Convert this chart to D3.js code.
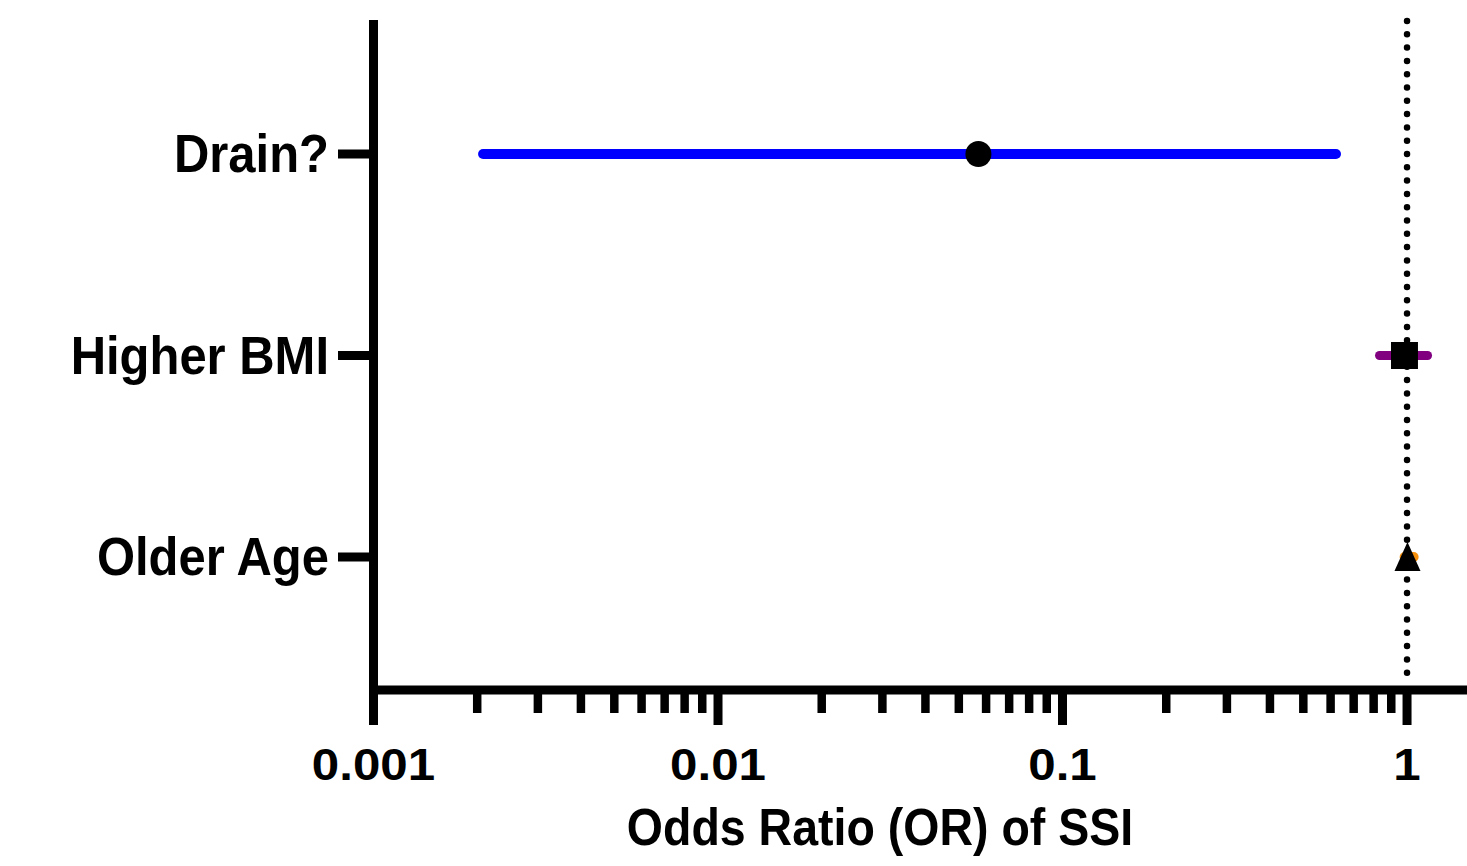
<!DOCTYPE html>
<html>
<head>
<meta charset="utf-8">
<script src="https://cdn.jsdelivr.net/npm/d3@7"></script>
<style>
  html, body { margin: 0; padding: 0; background: #fff; }
  svg { display: block; font-family: "Liberation Sans", Arial, Helvetica, sans-serif; font-weight: bold; }
</style>
</head>
<body>
<svg id="chart"></svg>
<script>
// data
const categories = ['Drain?', 'Higher BMI', 'Older Age'];
const oddsRatio = [0.057, 0.983, 1.003];
const ciLow = [0.00208, 0.832, 0.984];
const ciHigh = [0.622, 1.147, 1.045];
const markers = ['circle', 'square', 'triangle'];
const majorTicks = [0.001, 0.01, 0.1, 1];
const xTitle = 'Odds Ratio (OR) of SSI';

const barColors = ['#0000ff', '#800080', '#f5900f'];

const width = 1467;
const height = 866;
const svg = d3.select('#chart').attr('width', width).attr('height', height);

const x = d3.scaleLog().domain([0.001, 1.5]).range([373.5, 1467.7]);
const y = d3.scalePoint().domain(categories).range([154, 557]);
const axisY = 690;
const axisTop = 20;

const rows = categories.map((c, i) => ({
  cat: c, or: oddsRatio[i], lo: ciLow[i], hi: ciHigh[i], marker: markers[i], color: barColors[i]
}));

// reference line at OR = 1
svg.append('line')
  .attr('x1', x(1)).attr('x2', x(1))
  .attr('y1', axisTop + 1).attr('y2', axisY - 4)
  .attr('stroke', '#000')
  .attr('stroke-width', 6.5)
  .attr('stroke-linecap', 'round')
  .attr('stroke-dasharray', '0 13.3');

// x axis: line + major/minor ticks
const minor = x.ticks().filter(t => !majorTicks.includes(t) && t <= 1.0001);
const gx = svg.append('g');
gx.append('line')
  .attr('x1', x(0.001) - 4.5).attr('x2', width + 5)
  .attr('y1', axisY).attr('y2', axisY)
  .attr('stroke', '#000').attr('stroke-width', 9);
gx.selectAll('.minor')
  .data(minor)
  .join('line')
  .attr('x1', d => x(d)).attr('x2', d => x(d))
  .attr('y1', axisY).attr('y2', 713)
  .attr('stroke', '#000').attr('stroke-width', 8.5);
gx.selectAll('.major')
  .data(majorTicks)
  .join('line')
  .attr('x1', d => x(d)).attr('x2', d => x(d))
  .attr('y1', axisY).attr('y2', 725)
  .attr('stroke', '#000').attr('stroke-width', 9);
gx.selectAll('text')
  .data(majorTicks)
  .join('text')
  .attr('transform', d => `translate(${x(d)},780) scale(1.12,1)`)
  .attr('text-anchor', 'middle')
  .attr('font-size', 44)
  .text(d => String(d));

// y axis
const gy = svg.append('g');
gy.append('line')
  .attr('x1', x(0.001)).attr('x2', x(0.001))
  .attr('y1', axisTop).attr('y2', 725)
  .attr('stroke', '#000').attr('stroke-width', 9);
gy.selectAll('.ytick')
  .data(categories)
  .join('line')
  .attr('x1', 338).attr('x2', x(0.001))
  .attr('y1', d => y(d)).attr('y2', d => y(d))
  .attr('stroke', '#000').attr('stroke-width', 9);
gy.selectAll('text')
  .data(categories)
  .join('text')
  .attr('transform', d => `translate(329,${y(d) + 18}) scale(1.02,1.1)`)
  .attr('text-anchor', 'end')
  .attr('font-size', 48)
  .text(d => d);

// confidence intervals
svg.append('g')
  .selectAll('line')
  .data(rows)
  .join('line')
  .attr('x1', d => x(d.lo)).attr('x2', d => x(d.hi))
  .attr('y1', d => y(d.cat)).attr('y2', d => y(d.cat))
  .attr('stroke', d => d.color)
  .attr('stroke-width', d => d.marker === 'square' ? 9 : 10)
  .attr('stroke-linecap', 'round');

// point estimates
const symbolPath = {
  circle: d3.symbol(d3.symbolCircle, Math.PI * 13 * 13)(),
  square: d3.symbol(d3.symbolSquare, 27 * 27)(),
  triangle: 'M0,-15L13,14L-13,14Z'
};
svg.append('g')
  .selectAll('path')
  .data(rows)
  .join('path')
  .attr('transform', d => `translate(${x(d.or)},${y(d.cat)})`)
  .attr('d', d => symbolPath[d.marker])
  .attr('fill', '#000');

// axis title
svg.append('text')
  .attr('transform', 'translate(880,845) scale(1,1.1)')
  .attr('text-anchor', 'middle')
  .attr('font-size', 46.5)
  .text(xTitle);
</script>
</body>
</html>
